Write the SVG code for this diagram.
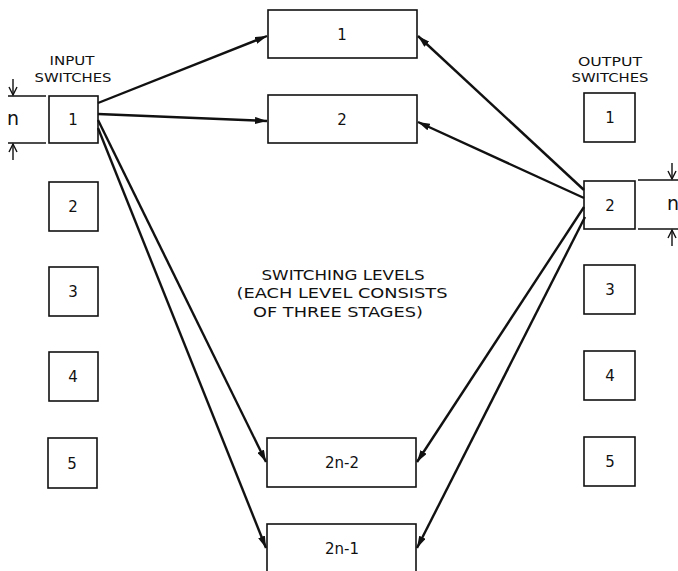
<svg xmlns="http://www.w3.org/2000/svg" width="678" height="571" viewBox="0 0 678 571">
<style>
.box{fill:#fff;stroke:#111;stroke-width:1.6}
.lbl{font-family:"DejaVu Sans","Liberation Sans",sans-serif;font-size:15px;fill:#111;text-anchor:middle}
.hd{font-family:"DejaVu Sans","Liberation Sans",sans-serif;font-size:12.5px;fill:#111;text-anchor:middle}
.cap{font-family:"DejaVu Sans","Liberation Sans",sans-serif;font-size:14px;fill:#111;text-anchor:middle}
.nn{font-family:"DejaVu Sans","Liberation Sans",sans-serif;font-size:19px;fill:#111;text-anchor:middle}
.ln{stroke:#111;stroke-width:2.4;fill:none}
.dim{stroke:#111;stroke-width:1.4;fill:none}
</style>
<defs>
<marker id="ah" viewBox="0 0 10 6" refX="10" refY="3" markerWidth="5" markerHeight="3" orient="auto" markerUnits="strokeWidth">
<path d="M0,0 L10,3 L0,6 Z" fill="#111"/>
</marker>
</defs>
<rect width="678" height="571" fill="#fff"/>
<g id="labels">
<text class="hd" x="72" y="65" textLength="45" lengthAdjust="spacingAndGlyphs">INPUT</text>
<text class="hd" x="73" y="82" textLength="77" lengthAdjust="spacingAndGlyphs">SWITCHES</text>
<text class="hd" x="610" y="66" textLength="64" lengthAdjust="spacingAndGlyphs">OUTPUT</text>
<text class="hd" x="610" y="82" textLength="77" lengthAdjust="spacingAndGlyphs">SWITCHES</text>
<text class="cap" x="343" y="280" textLength="163" lengthAdjust="spacingAndGlyphs">SWITCHING LEVELS</text>
<text class="cap" x="342" y="298" textLength="211" lengthAdjust="spacingAndGlyphs">(EACH LEVEL CONSISTS</text>
<text class="cap" x="338" y="317" textLength="170" lengthAdjust="spacingAndGlyphs">OF THREE STAGES)</text>
</g>
<g id="dim-left">
<line class="dim" x1="8" y1="96" x2="46" y2="96"/>
<line class="dim" x1="8" y1="143" x2="46" y2="143"/>
<line class="dim" x1="13" y1="79" x2="13" y2="95"/>
<path class="dim" d="M9,87 L13,95 L17,87"/>
<line class="dim" x1="13" y1="144" x2="13" y2="160"/>
<path class="dim" d="M9,152 L13,144 L17,152"/>
<text class="nn" x="13" y="125">n</text>
</g>
<g id="dim-right">
<line class="dim" x1="638" y1="180" x2="678" y2="180"/>
<line class="dim" x1="638" y1="229" x2="678" y2="229"/>
<line class="dim" x1="672" y1="163" x2="672" y2="179"/>
<path class="dim" d="M668,171 L672,179 L676,171"/>
<line class="dim" x1="672" y1="230" x2="672" y2="246"/>
<path class="dim" d="M668,238 L672,230 L676,238"/>
<text class="nn" x="673" y="210">n</text>
</g>
<g id="in1"><rect class="box" x="49" y="96" width="49" height="47"/><text class="lbl" x="73" y="125">1</text></g>
<g id="in2"><rect class="box" x="49" y="182" width="49" height="49"/><text class="lbl" x="73" y="212">2</text></g>
<g id="in3"><rect class="box" x="49" y="267" width="49" height="49"/><text class="lbl" x="73" y="297">3</text></g>
<g id="in4"><rect class="box" x="49" y="352" width="49" height="49"/><text class="lbl" x="73" y="382">4</text></g>
<g id="in5"><rect class="box" x="48" y="438" width="49" height="50"/><text class="lbl" x="72" y="469">5</text></g>
<g id="out1"><rect class="box" x="584" y="93" width="51" height="49"/><text class="lbl" x="610" y="123">1</text></g>
<g id="out2"><rect class="box" x="584" y="181" width="51" height="48"/><text class="lbl" x="610" y="211">2</text></g>
<g id="out3"><rect class="box" x="584" y="265" width="51" height="49"/><text class="lbl" x="610" y="295">3</text></g>
<g id="out4"><rect class="box" x="584" y="351" width="51" height="49"/><text class="lbl" x="610" y="381">4</text></g>
<g id="out5"><rect class="box" x="584" y="437" width="51" height="49"/><text class="lbl" x="610" y="467">5</text></g>
<g id="lvl1"><rect class="box" x="268" y="10" width="149" height="48"/><text class="lbl" x="342" y="40">1</text></g>
<g id="lvl2"><rect class="box" x="268" y="95" width="149" height="48"/><text class="lbl" x="342" y="125">2</text></g>
<g id="lvl2n-2"><rect class="box" x="267" y="438" width="149" height="49"/><text class="lbl" x="342" y="468">2n-2</text></g>
<g id="lvl2n-1"><rect class="box" x="267" y="524" width="149" height="50"/><text class="lbl" x="342" y="554">2n-1</text></g>
<g id="connectors">
<line class="ln" x1="98" y1="103" x2="267" y2="36" marker-end="url(#ah)"/>
<line class="ln" x1="98" y1="114" x2="267" y2="121" marker-end="url(#ah)"/>
<line class="ln" x1="98" y1="120" x2="266" y2="462" marker-end="url(#ah)"/>
<line class="ln" x1="98" y1="128" x2="266" y2="548" marker-end="url(#ah)"/>
<line class="ln" x1="584" y1="190" x2="418" y2="36" marker-end="url(#ah)"/>
<line class="ln" x1="584" y1="198" x2="418" y2="122" marker-end="url(#ah)"/>
<line class="ln" x1="584" y1="207" x2="417" y2="462" marker-end="url(#ah)"/>
<line class="ln" x1="585" y1="217" x2="417" y2="548" marker-end="url(#ah)"/>
</g>
</svg>
